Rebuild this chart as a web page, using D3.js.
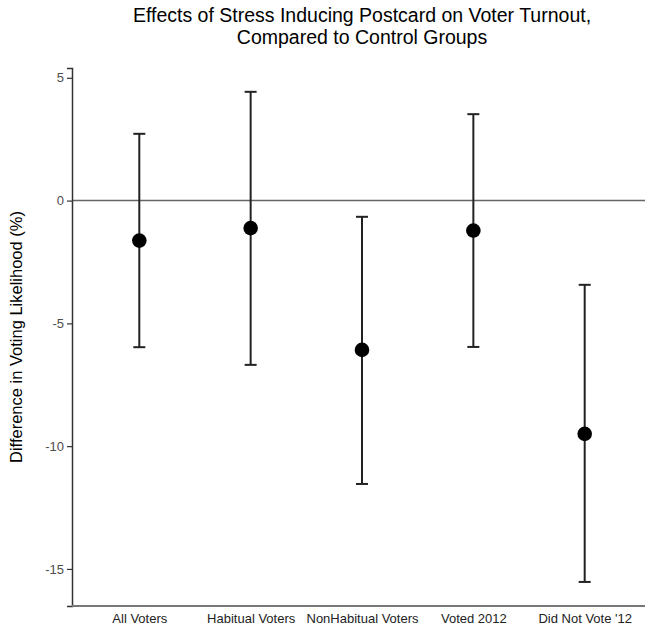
<!DOCTYPE html>
<html>
<head>
<meta charset="utf-8">
<script src="https://cdn.jsdelivr.net/npm/d3@7"></script>
<style>
  body { margin: 0; background: #fff; }
  text { font-family: "Liberation Sans", Arial, sans-serif; }
</style>
</head>
<body>
<svg id="chart" width="645" height="631"></svg>
<script>
// groups and estimates (percentage points)
const groups = ['All Voters', 'Habitual Voters', 'NonHabitual Voters', 'Voted 2012', "Did Not Vote '12"];
const estimates = [-1.63, -1.12, -6.08, -1.22, -9.5];
const lowerCI = [-5.97, -6.69, -11.54, -5.96, -15.53];
const upperCI = [2.72, 4.43, -0.66, 3.52, -3.43];
const yTicks = [5, 0, -5, -10, -15];

const svg = d3.select('#chart');
const margin = { top: 68, right: 0, bottom: 25, left: 72 };
const width = 645 - margin.left - margin.right;
const height = 631 - margin.top - margin.bottom;

const g = svg.append('g').attr('transform', `translate(${margin.left},${margin.top})`);

const x = d3.scalePoint()
    .domain(groups)
    .range([67.3, 512.7]);

const y = d3.scaleLinear()
    .domain([-16.51, 5.4])
    .range([height, 0]);

const rows = groups.map((d, i) => ({
    group: d,
    est: estimates[i],
    lo: lowerCI[i],
    hi: upperCI[i],
}));

// zero reference line
g.append('line')
    .attr('x1', 0)
    .attr('x2', width)
    .attr('y1', y(0))
    .attr('y2', y(0))
    .attr('stroke', '#666')
    .attr('stroke-width', 1.5);

// error bars
const capHalf = 6;
const bars = g.selectAll('.bar')
    .data(rows)
    .join('g')
    .attr('class', 'bar');

bars.append('line')
    .attr('x1', d => x(d.group))
    .attr('x2', d => x(d.group))
    .attr('y1', d => y(d.hi))
    .attr('y2', d => y(d.lo))
    .attr('stroke', '#222')
    .attr('stroke-width', 2);

bars.append('line')
    .attr('x1', d => x(d.group) - capHalf)
    .attr('x2', d => x(d.group) + capHalf)
    .attr('y1', d => y(d.hi))
    .attr('y2', d => y(d.hi))
    .attr('stroke', '#222')
    .attr('stroke-width', 2);

bars.append('line')
    .attr('x1', d => x(d.group) - capHalf)
    .attr('x2', d => x(d.group) + capHalf)
    .attr('y1', d => y(d.lo))
    .attr('y2', d => y(d.lo))
    .attr('stroke', '#222')
    .attr('stroke-width', 2);

bars.append('circle')
    .attr('cx', d => x(d.group))
    .attr('cy', d => y(d.est))
    .attr('r', 7.3)
    .attr('fill', '#000');

// Y axis (plain hyphen for negatives, like the original)
const yAxis = g.append('g')
    .call(d3.axisLeft(y).tickValues(yTicks).tickSize(5).tickPadding(3).tickFormat(d => String(d)));
yAxis.select('.domain').attr('stroke', '#333').attr('stroke-width', 1.5);
yAxis.selectAll('.tick line').attr('stroke', '#333').attr('stroke-width', 1.2);
yAxis.selectAll('.tick text')
    .attr('fill', '#4d4d4d')
    .style('font-size', '13px')
    .style('font-family', '"Liberation Sans", Arial, sans-serif');

// X axis
const xAxis = g.append('g')
    .attr('transform', `translate(0,${height})`)
    .call(d3.axisBottom(x).tickSize(0).tickPadding(8));
xAxis.select('.domain')
    .attr('d', `M0,0H${width}`)
    .attr('stroke', '#777')
    .attr('stroke-width', 2);
xAxis.selectAll('.tick text')
    .attr('fill', '#222')
    .style('font-size', '13px')
    .style('font-family', '"Liberation Sans", Arial, sans-serif');

// Y axis label
svg.append('text')
    .attr('transform', `translate(22,${margin.top + height / 2}) rotate(-90)`)
    .attr('text-anchor', 'middle')
    .style('font-size', '16.5px')
    .attr('fill', '#000')
    .text('Difference in Voting Likelihood (%)');

// Title
const title = svg.append('text')
    .attr('text-anchor', 'middle')
    .style('font-size', '19.5px')
    .attr('fill', '#000');
title.append('tspan').attr('x', 362).attr('y', 22).text('Effects of Stress Inducing Postcard on Voter Turnout,');
title.append('tspan').attr('x', 362).attr('y', 44).text('Compared to Control Groups');
</script>
</body>
</html>
